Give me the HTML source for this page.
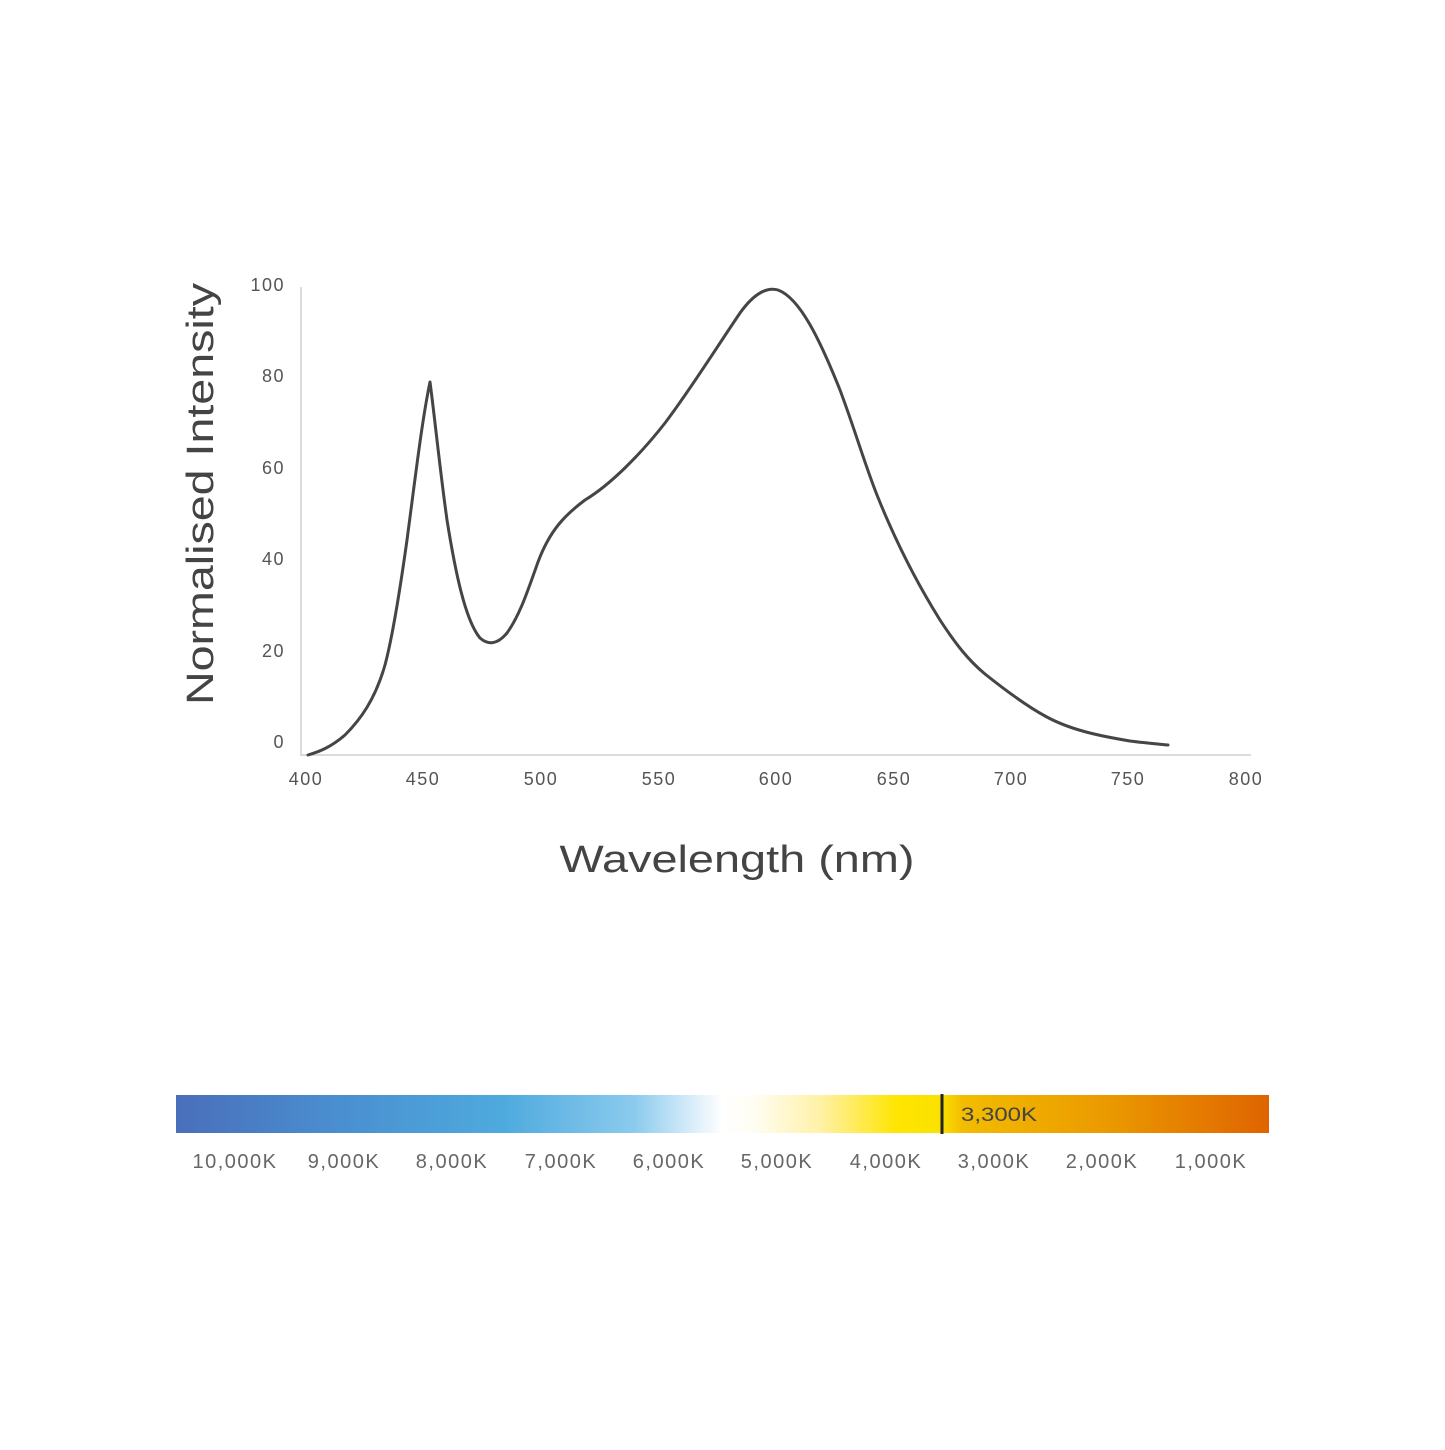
<!DOCTYPE html>
<html><head><meta charset="utf-8"><style>
html,body{margin:0;padding:0;background:#fff;}
body{width:1445px;height:1445px;overflow:hidden;}
</style></head><body>
<svg width="1445" height="1445" viewBox="0 0 1445 1445" xmlns="http://www.w3.org/2000/svg" font-family="Liberation Sans, sans-serif">
<defs>
<linearGradient id="g" x1="0" x2="1" y1="0" y2="0">
<stop offset="0" stop-color="#4a6fba"/>
<stop offset="0.15" stop-color="#4a8fd0"/>
<stop offset="0.3" stop-color="#4eaade"/>
<stop offset="0.42" stop-color="#8ccbee"/>
<stop offset="0.48" stop-color="#e4f2fb"/>
<stop offset="0.5" stop-color="#ffffff"/>
<stop offset="0.53" stop-color="#fffdf2"/>
<stop offset="0.59" stop-color="#fff1a6"/>
<stop offset="0.66" stop-color="#ffe500"/>
<stop offset="0.7" stop-color="#fbe100"/>
<stop offset="0.72" stop-color="#f2bc00"/>
<stop offset="0.85" stop-color="#eb9a00"/>
<stop offset="1" stop-color="#df6400"/>
</linearGradient>
</defs>
<line x1="301" y1="287" x2="301" y2="756" stroke="#d0d0d0" stroke-width="1.5"/>
<line x1="301" y1="755" x2="1251" y2="755" stroke="#d0d0d0" stroke-width="1.5"/>
<g font-size="18" fill="#555" text-anchor="end" letter-spacing="1.5">
<text x="285" y="291">100</text>
<text x="285" y="382">80</text>
<text x="285" y="474">60</text>
<text x="285" y="565">40</text>
<text x="285" y="657">20</text>
<text x="285" y="748">0</text>
</g>
<g font-size="18" fill="#555" text-anchor="middle" letter-spacing="1.5">
<text x="306" y="785">400</text>
<text x="423" y="785">450</text>
<text x="541" y="785">500</text>
<text x="659" y="785">550</text>
<text x="776" y="785">600</text>
<text x="894" y="785">650</text>
<text x="1011" y="785">700</text>
<text x="1128" y="785">750</text>
<text x="1246" y="785">800</text>
</g>
<text transform="translate(213,494) rotate(-90)" font-size="38" fill="#444" text-anchor="middle" textLength="422" lengthAdjust="spacingAndGlyphs">Normalised Intensity</text>
<text x="737" y="872" font-size="38" fill="#444" text-anchor="middle" textLength="355" lengthAdjust="spacingAndGlyphs">Wavelength (nm)</text>
<path d="M308,755 C318,752 330,748 345,735 C360,720 375,700 385,665 C393,635 400,590 407,540 C415,480 422,420 430,382 C435,420 440,470 447,520 C455,570 465,620 480,638 C488,645 497,645 507,633 C520,615 528,590 538,562 C550,530 565,515 585,500 C610,485 640,455 665,423 C690,390 715,350 740,313 C755,292 768,287 778,290 C800,298 820,340 840,390 C855,430 865,465 877,495 C895,540 915,580 940,620 C955,643 968,660 985,674 C1005,690 1025,705 1045,716 C1070,730 1100,736 1130,741 C1145,743 1158,744 1168,745" fill="none" stroke="#454545" stroke-width="3" stroke-linejoin="round" stroke-linecap="round"/>
<rect x="176" y="1095" width="1093" height="38" fill="url(#g)"/>
<line x1="942" y1="1094" x2="942" y2="1134" stroke="#222" stroke-width="3"/>
<text x="961" y="1121" font-size="19" fill="#444" textLength="76" lengthAdjust="spacingAndGlyphs">3,300K</text>
<g font-size="20" fill="#666" text-anchor="middle" letter-spacing="1.5">
<text x="235" y="1168">10,000K</text>
<text x="344" y="1168">9,000K</text>
<text x="452" y="1168">8,000K</text>
<text x="561" y="1168">7,000K</text>
<text x="669" y="1168">6,000K</text>
<text x="777" y="1168">5,000K</text>
<text x="886" y="1168">4,000K</text>
<text x="994" y="1168">3,000K</text>
<text x="1102" y="1168">2,000K</text>
<text x="1211" y="1168">1,000K</text>
</g>
</svg>
</body></html>
